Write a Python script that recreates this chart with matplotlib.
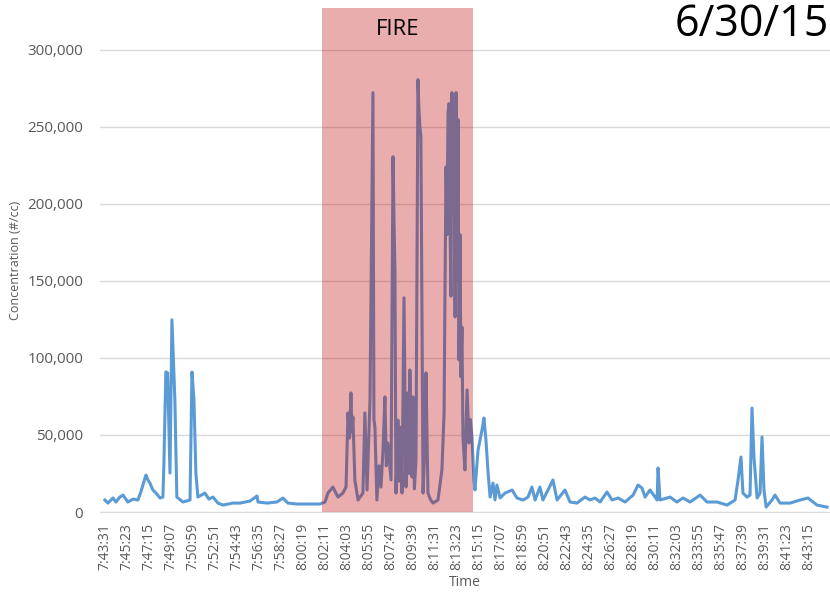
import matplotlib
matplotlib.use("Agg")
import matplotlib.pyplot as plt
from matplotlib.ticker import FuncFormatter

# particle counter readings: seconds after 7:43:31, concentration in thousands #/cc
secs = [0, 15, 41, 56, 76, 92, 117, 143, 168, 183, 204, 209, 219, 229, 244, 260, 280, 295,
        300, 310, 319, 331, 341, 356, 366, 397, 433, 443, 453, 463, 473, 509, 529, 550,
        575, 601, 651, 687, 738, 774, 779, 825, 875, 906, 931, 977, 1043, 1094, 1120, 1135,
        1160, 1186, 1211, 1227, 1237, 1245, 1252, 1257, 1262, 1272, 1288, 1313, 1323, 1334,
        1349, 1364, 1369, 1374, 1384, 1395, 1405, 1415, 1425, 1432, 1440, 1456, 1466, 1471,
        1476, 1481, 1491, 1497, 1505, 1512, 1522, 1532, 1537, 1542, 1547, 1552, 1558, 1563,
        1568, 1575, 1583, 1593, 1598, 1603, 1608, 1619, 1629, 1634, 1644, 1657, 1670, 1695,
        1715, 1726, 1731, 1736, 1741, 1746, 1751, 1756, 1761, 1766, 1771, 1776, 1782, 1787,
        1792, 1797, 1802, 1807, 1812, 1817, 1822, 1832, 1843, 1853, 1860, 1868, 1878, 1883,
        1899, 1919, 1929, 1939, 1949, 1960, 1975, 1985, 1995, 2011, 2036, 2072, 2097, 2128,
        2153, 2173, 2189, 2214, 2229, 2255, 2280, 2301, 2341, 2367, 2402, 2443, 2469, 2494,
        2520, 2555, 2581, 2611, 2647, 2688, 2713, 2733, 2749, 2774, 2800, 2810, 2815, 2825,
        2876, 2911, 2942, 2978, 3029, 3064, 3115, 3166, 3207, 3222, 3237, 3247, 3268, 3283,
        3293, 3303, 3319, 3334, 3344, 3354, 3365, 3395, 3410, 3436, 3487, 3538, 3578, 3624,
        3675]
conc_k = [7.8, 5.8, 9.1, 6.5, 9.7, 11.0, 6.5, 8.4, 7.8, 13.0, 22.1, 24.0, 20.8, 18.8, 14.3,
          12.3, 9.1, 9.7, 30.5, 90.9, 90.3, 25.3, 124.7, 72.7, 9.7, 6.5, 7.8, 90.9, 72.7, 25.3,
          9.7, 12.3, 8.4, 9.7, 5.8, 4.5, 5.8, 5.8, 7.1, 10.4, 6.5, 5.8, 6.5, 9.1, 5.8, 5.2,
          5.2, 5.2, 6.5, 12.3, 16.2, 9.7, 12.3, 16.2, 64.3, 48.0, 77.3, 52.0, 61.7, 20.8, 7.8,
          12.3, 64.3, 14.3, 72.7, 272.1, 60.0, 55.2, 7.8, 30.0, 16.2, 40.0, 74.7, 30.0, 44.8,
          20.8, 230.5, 190.0, 155.2, 12.3, 59.7, 20.0, 55.0, 12.3, 139.0, 16.2, 60.0, 77.3,
          25.0, 92.2, 40.0, 22.7, 74.7, 15.0, 33.8, 280.5, 261.1, 250.0, 243.5, 12.3, 44.8,
          90.3, 12.3, 8.0, 5.8, 7.8, 27.3, 64.3, 150.0, 224.0, 180.0, 259.1, 265.0, 189.6,
          140.0, 272.1, 198.1, 260.0, 126.6, 272.1, 150.0, 254.6, 98.7, 180.0, 87.7, 120.0,
          48.7, 27.3, 79.2, 44.8, 60.0, 48.7, 20.8, 14.3, 40.3, 53.3, 61.0, 46.8, 27.3, 9.7,
          18.8, 7.8, 17.5, 9.1, 12.3, 14.3, 9.1, 7.8, 9.7, 16.2, 7.8, 16.2, 7.8, 14.3, 20.8,
          7.8, 14.3, 6.5, 5.8, 9.7, 7.8, 9.1, 6.5, 13.0, 7.8, 9.1, 6.5, 11.0, 17.5, 15.6, 9.7,
          14.3, 9.7, 7.8, 28.6, 7.8, 9.7, 6.5, 9.1, 6.5, 11.0, 6.5, 6.5, 4.5, 7.8, 20.8, 35.7,
          12.3, 9.7, 11.0, 67.5, 35.7, 9.1, 12.3, 48.7, 14.3, 3.2, 7.8, 11.0, 5.8, 5.8, 7.8,
          9.1, 4.5, 3.2]

tick_labels = ["7:43:31", "7:45:23", "7:47:15", "7:49:07", "7:50:59", "7:52:51", "7:54:43",
               "7:56:35", "7:58:27", "8:00:19", "8:02:11", "8:04:03", "8:05:55", "8:07:47",
               "8:09:39", "8:11:31", "8:13:23", "8:15:15", "8:17:07", "8:18:59", "8:20:51",
               "8:22:43", "8:24:35", "8:26:27", "8:28:19", "8:30:11", "8:32:03", "8:33:55",
               "8:35:47", "8:37:39", "8:39:31", "8:41:23", "8:43:15"]
fire_start, fire_end = "8:01:56", "8:14:44"


def to_secs(s):
    h, m, sec = (int(p) for p in s.split(":"))
    return h * 3600 + m * 60 + sec - (7 * 3600 + 43 * 60 + 31)


conc = [v * 1000 for v in conc_k]
tick_pos = [to_secs(s) for s in tick_labels]

plt.rcParams['font.family'] = ['Open Sans', 'DejaVu Sans']
grey = "#595959"

fig = plt.figure(figsize=(8.3, 5.94), dpi=100)
ax = fig.add_axes([0.1205, 0.138, 0.8795, 0.8485])

ax.plot(secs, conc, color="#5B9BD5", lw=2.2, zorder=2)
ax.axvspan(to_secs(fire_start), to_secs(fire_end), color=(0.75, 0.0, 0.0), alpha=0.32,
           lw=0, zorder=3)
ax.text((to_secs(fire_start) + to_secs(fire_end)) / 2, 313000, "FIRE", ha="center",
        va="center", fontsize=16, color="black", zorder=4)

ax.set_xlim(-25, 3690)
ax.set_ylim(0, 327000)
ax.set_yticks(range(0, 300001, 50000))
ax.yaxis.set_major_formatter(FuncFormatter(lambda v, p: f"{int(v):,}"))
ax.set_xticks(tick_pos)
ax.set_xticklabels(tick_labels, rotation=90)
ax.grid(axis="y", color="#d9d9d9", lw=1, zorder=0)
ax.tick_params(length=0, colors=grey)
ax.tick_params(axis="y", pad=12, labelsize=11)
ax.tick_params(axis="x", pad=8, labelsize=10)
for side in ["top", "right", "left"]:
    ax.spines[side].set_visible(False)
ax.spines["bottom"].set_color("#d9d9d9")

ax.set_xlabel("Time", color=grey, fontsize=10, labelpad=3)
ax.set_ylabel("Concentration (#/cc)", color=grey, fontsize=9, labelpad=4)

fig.text(0.999, 0.958, "6/30/15", ha="right", va="center", fontsize=31, color="black")

fig.savefig("out.png", dpi=100)
